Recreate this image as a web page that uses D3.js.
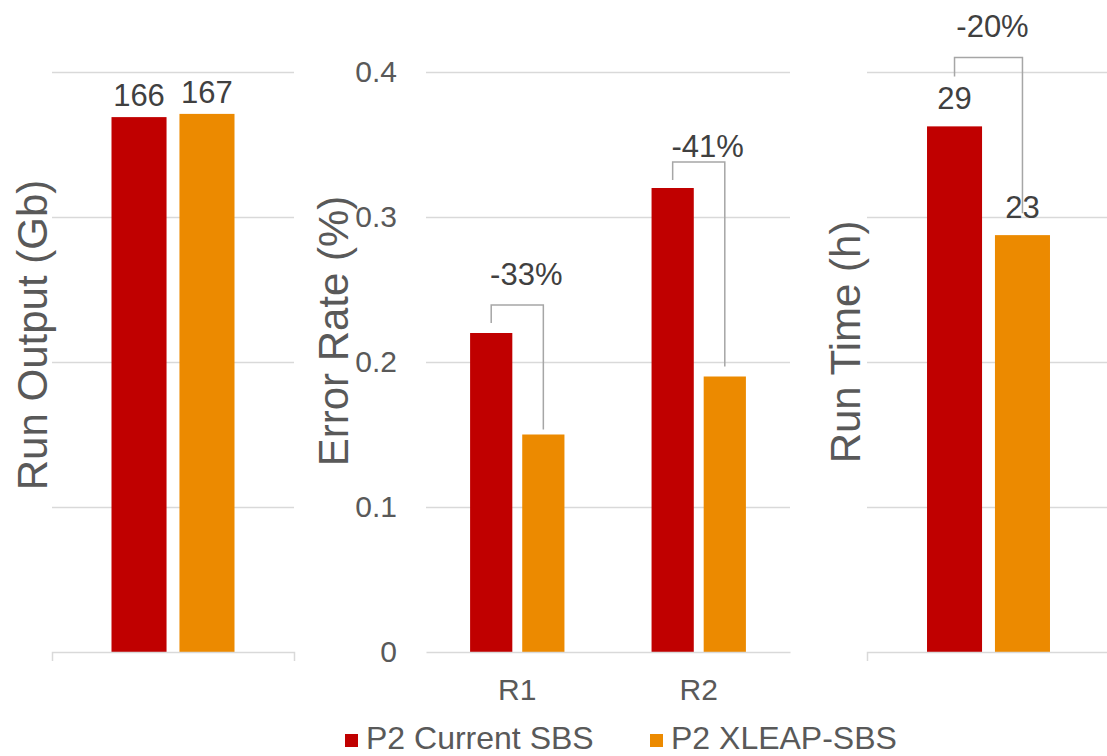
<!DOCTYPE html>
<html>
<head>
<meta charset="utf-8">
<script src="https://cdn.jsdelivr.net/npm/d3@7/dist/d3.min.js"></script>
<style>
  html, body { margin: 0; padding: 0; background: #ffffff; }
  svg { display: block; font-family: "Liberation Sans", Arial, Helvetica, sans-serif; }
</style>
</head>
<body>
<svg id="chart" width="1107" height="756"></svg>
<script>
// ---- data ----
const seriesNames = ["P2 Current SBS", "P2 XLEAP-SBS"];
const seriesColors = ["#C00000", "#EC8A00"];

const outputCategories = ["Output"];
const outputCurrent = [166];
const outputXleap = [167];
const outputTicks = [0, 45, 90, 135, 180];

const errorCategories = ["R1", "R2"];
const errorCurrent = [0.22, 0.32];
const errorXleap = [0.15, 0.19];
const errorTicks = [0, 0.1, 0.2, 0.3, 0.4];
const errorTickLabels = ["0", "0.1", "0.2", "0.3", "0.4"];
const errorChangeLabels = ["-33%", "-41%"];

const timeCategories = ["Time"];
const timeCurrent = [29];
const timeXleap = [23];
const timeTicks = [0, 8, 16, 24, 32];
const timeChangeLabels = ["-20%"];

// ---- layout ----
const svg = d3.select("#chart");
const yTop = 72, yBase = 652;
const gridColor = "#D9D9D9";
const textDark = "#404040";
const textGray = "#595959";

const panels = [
  {
    title: "Run Output (Gb)", titleX: 32, titleY: 335,
    categories: outputCategories, series: [outputCurrent, outputXleap],
    ticks: outputTicks, tickLabels: null, max: 180,
    xr: [52, 294], pi: 0.326, po: 0.326, outerTicks: 9,
    valueLabels: true, labelGap: 11,
    brackets: []
  },
  {
    title: "Error Rate (%)", titleX: 333, titleY: 331,
    categories: errorCategories, series: [errorCurrent, errorXleap],
    ticks: errorTicks, tickLabels: errorTickLabels, max: 0.4,
    xr: [426, 790], pi: 0.48, po: 0.243, outerTicks: 0,
    valueLabels: false,
    brackets: [
      { cat: "R1", text: errorChangeLabels[0], lift: 28, leftGap: 10, rightGap: 5, textGap: 20, textShift: 9 },
      { cat: "R2", text: errorChangeLabels[1], lift: 26, leftGap: 8, rightGap: 10, textGap: 5, textShift: 9 }
    ]
  },
  {
    title: "Run Time (h)", titleX: 845, titleY: 342,
    categories: timeCategories, series: [timeCurrent, timeXleap],
    ticks: timeTicks, tickLabels: null, max: 32,
    xr: [867, 1110], pi: 0.328, po: 0.328, outerTicks: 9,
    valueLabels: true, labelGap: 17,
    brackets: [
      { cat: "Time", text: timeChangeLabels[0], lift: 69, leftGap: 50, rightGap: 22, textGap: 20, textShift: 4 }
    ]
  }
];

panels.forEach(p => {
  const g = svg.append("g");
  const y = d3.scaleLinear().domain([0, p.max]).range([yBase, yTop]);
  const x0 = d3.scaleBand().domain(p.categories).range(p.xr)
    .paddingInner(p.pi).paddingOuter(p.po);
  const x1 = d3.scaleBand().domain(d3.range(p.series.length))
    .range([0, x0.bandwidth()]).paddingInner(0.19);

  // horizontal gridlines (and value tick labels where shown)
  const yAxis = d3.axisLeft(y)
    .tickValues(p.ticks.slice(1))
    .tickSize(-(p.xr[1] - p.xr[0]))
    .tickPadding(29)
    .tickFormat(p.tickLabels ? (d => p.tickLabels[p.ticks.indexOf(d)]) : () => "");
  const ga = g.append("g").attr("transform", `translate(${p.xr[0]},0)`).call(yAxis);
  ga.select(".domain").remove();
  ga.selectAll(".tick line").attr("stroke", gridColor).attr("stroke-width", 1.5);
  ga.selectAll(".tick text").attr("fill", textGray).attr("font-size", 30)
    .attr("font-family", "Liberation Sans, Arial, sans-serif");
  if (p.tickLabels) {
    // zero label sits on the baseline
    g.append("text").attr("x", p.xr[0] - 29).attr("y", y(0)).attr("dy", "0.32em")
      .attr("text-anchor", "end").attr("fill", textGray).attr("font-size", 30)
      .text(p.tickLabels[0]);
  }

  // bars
  p.series.forEach((vals, si) => {
    g.append("g").selectAll("rect").data(vals).join("rect")
      .attr("x", (d, i) => x0(p.categories[i]) + x1(si))
      .attr("y", d => y(d))
      .attr("width", x1.bandwidth())
      .attr("height", d => y(0) - y(d))
      .attr("fill", seriesColors[si]);
    if (p.valueLabels) {
      g.append("g").selectAll("text").data(vals).join("text")
        .attr("x", (d, i) => x0(p.categories[i]) + x1(si) + x1.bandwidth() / 2)
        .attr("y", d => y(d) - p.labelGap)
        .attr("text-anchor", "middle")
        .attr("fill", textDark).attr("font-size", 31)
        .text(d => d);
    }
  });

  // baseline / category axis
  const xAxis = d3.axisBottom(x0).tickSize(0).tickSizeOuter(p.outerTicks).tickPadding(27);
  const gx = g.append("g").attr("transform", `translate(0,${yBase})`).call(xAxis);
  gx.select(".domain").attr("stroke", gridColor).attr("stroke-width", 1.5);
  if (p.tickLabels) {
    gx.selectAll(".tick text").attr("fill", textGray).attr("font-size", 30)
      .attr("font-family", "Liberation Sans, Arial, sans-serif");
  } else {
    gx.selectAll(".tick text").remove();
  }

  // change brackets between the two series
  p.brackets.forEach(b => {
    const i = p.categories.indexOf(b.cat);
    const a = p.series[0][i], c = p.series[1][i];
    const xa = x0(b.cat) + x1(0) + x1.bandwidth() / 2;
    const xc = x0(b.cat) + x1(1) + x1.bandwidth() / 2;
    const top = Math.min(y(a), y(c)) - b.lift;
    const path = d3.path();
    path.moveTo(xa, y(a) - b.leftGap);
    path.lineTo(xa, top);
    path.lineTo(xc, top);
    path.lineTo(xc, y(c) - b.rightGap);
    g.append("path").attr("d", path.toString())
      .attr("fill", "none").attr("stroke", "#A6A6A6").attr("stroke-width", 1.5);
    g.append("text")
      .attr("x", (xa + xc) / 2 + b.textShift)
      .attr("y", top - b.textGap)
      .attr("text-anchor", "middle")
      .attr("fill", textDark).attr("font-size", 31)
      .text(b.text);
  });

  // axis title
  svg.append("text")
    .attr("transform", `translate(${p.titleX},${p.titleY}) rotate(-90)`)
    .attr("text-anchor", "middle").attr("dy", "0.35em")
    .attr("fill", textGray).attr("font-size", 42)
    .text(p.title);
});

// legend
const legendItems = [{ x: 345, i: 0 }, { x: 650, i: 1 }];
const lg = svg.append("g");
lg.selectAll("rect").data(legendItems).join("rect")
  .attr("x", d => d.x).attr("y", 734).attr("width", 13).attr("height", 13)
  .attr("fill", d => seriesColors[d.i]);
lg.selectAll("text").data(legendItems).join("text")
  .attr("x", d => d.x + 21).attr("y", 749)
  .attr("fill", textGray).attr("font-size", 32)
  .text(d => seriesNames[d.i]);
</script>
</body>
</html>
